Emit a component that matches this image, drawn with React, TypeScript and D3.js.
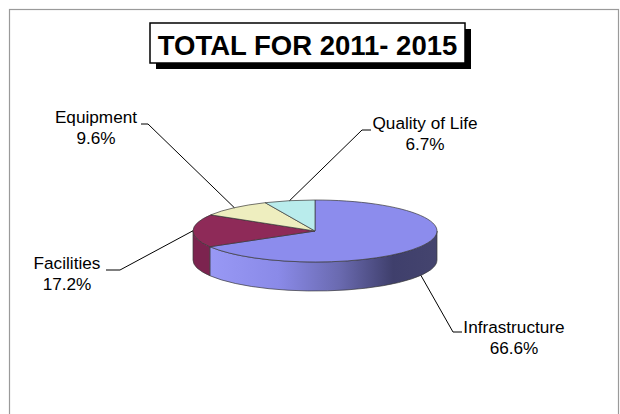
import React from "react";
import * as d3 from "d3";

const categories = ["Infrastructure", "Facilities", "Equipment", "Quality of Life"];
const values = [66.6, 17.2, 9.6, 6.7];
const percentLabels = ["66.6%", "17.2%", "9.6%", "6.7%"];
const title = "TOTAL FOR 2011- 2015";

const topColors = ["#8c8ced", "#8e2a58", "#eeeebf", "#b9ecec"];
const sideColors = ["url(#infraSide)", "#7c234f", "#d8d8a8", "#9fd4d4"];

// label layout: text center x, baseline y of first line, elbow point, end of horizontal tick
const labelLayout = [
  { cx: 514, y: 333, elbow: [453, 332], end: [462, 332], front: true },
  { cx: 67, y: 269, elbow: [120, 270], end: [106, 270], front: false },
  { cx: 96, y: 123, elbow: [148, 124], end: [141, 124], front: false },
  { cx: 425, y: 129, elbow: [362, 130], end: [371, 130], front: false },
];

const W = 620;
const H = 414;
const cx = 315;
const cy = 231;
const rx = 122;
const ry = 31;
const depth = 29;

function pt(a: number, dy = 0): [number, number] {
  return [cx + rx * Math.sin(a), cy - ry * Math.cos(a) + dy];
}

export default function App() {
  const pie = d3.pie<number>().sort(null).value((d) => d);
  const arcs = pie(values);

  const tops = arcs.map((a) => {
    const [x0, y0] = pt(a.startAngle);
    const [x1, y1] = pt(a.endAngle);
    const large = a.endAngle - a.startAngle > Math.PI ? 1 : 0;
    return `M${cx},${cy}L${x0},${y0}A${rx},${ry} 0 ${large} 1 ${x1},${y1}Z`;
  });

  const sides = arcs.map((a) => {
    const s = Math.max(a.startAngle, Math.PI / 2);
    const e = Math.min(a.endAngle, (3 * Math.PI) / 2);
    if (e <= s) return null;
    const [x0, y0] = pt(s);
    const [x1, y1] = pt(e);
    return `M${x0},${y0}A${rx},${ry} 0 0 1 ${x1},${y1}L${x1},${y1 + depth}A${rx},${ry} 0 0 0 ${x0},${y0 + depth}Z`;
  });

  const font = "'Liberation Sans', Arial, sans-serif";

  return (
    <svg
      width={W}
      height={H}
      style={{ position: "absolute", left: 0, top: 0, background: "#fff" }}
    >
      <defs>
        <linearGradient id="infraSide" x1={cx - rx} x2={cx + rx} y1={0} y2={0} gradientUnits="userSpaceOnUse">
          <stop offset="0" stopColor="#9c9cf8" />
          <stop offset="0.35" stopColor="#8a8ae8" />
          <stop offset="0.6" stopColor="#6a6ab0" />
          <stop offset="0.82" stopColor="#3f3f6c" />
          <stop offset="1" stopColor="#44446e" />
        </linearGradient>
      </defs>
      <rect x={9.5} y={9.5} width={609} height={420} fill="none" stroke="#9a9a9a" strokeWidth={1.2} />

      {/* title */}
      <rect x={156} y={29} width={315} height={40} fill="#000" />
      <rect x={150} y={23} width={315} height={40} fill="#fff" stroke="#000" strokeWidth={1.5} />
      <text
        x={307.5}
        y={55}
        textAnchor="middle"
        fontFamily={font}
        fontWeight="bold"
        fontSize={27.5}
        fill="#000"
      >
        {title}
      </text>

      {/* sides */}
      {sides.map((d, i) =>
        d ? <path key={"s" + i} d={d} fill={sideColors[i]} stroke="#3a3a3a" strokeWidth={0.7} /> : null
      )}
      {/* tops */}
      {tops.map((d, i) => (
        <path key={"t" + i} d={d} fill={topColors[i]} stroke="#3a3a3a" strokeWidth={0.7} />
      ))}

      {/* leader lines and labels */}
      {arcs.map((a, i) => {
        const L = labelLayout[i];
        const mid = (a.startAngle + a.endAngle) / 2;
        const [ax, ay] = pt(mid, L.front ? depth : 0);
        return (
          <g key={"l" + i}>
            <polyline
              points={`${ax},${ay} ${L.elbow[0]},${L.elbow[1]} ${L.end[0]},${L.end[1]}`}
              fill="none"
              stroke="#000"
              strokeWidth={1}
            />
            <text x={L.cx} y={L.y} textAnchor="middle" fontFamily={font} fontSize={17.2} fill="#000">
              {categories[i]}
            </text>
            <text x={L.cx} y={L.y + 21} textAnchor="middle" fontFamily={font} fontSize={17.2} fill="#000">
              {percentLabels[i]}
            </text>
          </g>
        );
      })}
    </svg>
  );
}
